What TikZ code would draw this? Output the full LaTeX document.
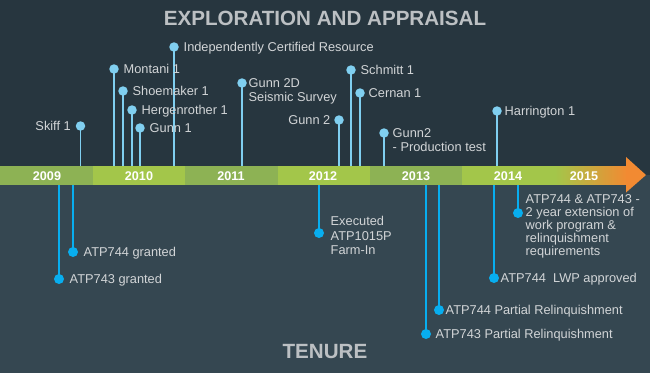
\documentclass[tikz,border=0pt]{standalone}
\usepackage{fontspec}
\setmainfont{Liberation Sans}
\definecolor{topbg}{HTML}{27363F}
\definecolor{botbg}{HTML}{354751}
\definecolor{bardark}{HTML}{8DB254}
\definecolor{barlight}{HTML}{A3C64A}
\definecolor{orangeA}{HTML}{F28A32}
\definecolor{yellowA}{HTML}{D8B448}
\definecolor{topblue}{HTML}{80CFF0}
\definecolor{botblue}{HTML}{08AEEF}
\definecolor{lblgrey}{HTML}{D2D5D7}
\definecolor{titlegrey}{HTML}{BCC0C3}
\begin{document}
\begin{tikzpicture}[x=1pt,y=-1pt,
  topdot/.style={circle,fill=topblue,inner sep=0,minimum size=9.5pt},
  botdot/.style={circle,fill=botblue,inner sep=0,minimum size=10pt},
  topstem/.style={draw=topblue,line width=1.3pt},
  botstem/.style={draw=botblue,line width=1.5pt},
  lbl/.style={text=lblgrey,font=\fontsize{12.8}{14}\selectfont,inner sep=0,text height=9.2pt,text depth=0pt},
  mlbl/.style={text=lblgrey,inner sep=0,align=left,anchor=north west},
  yearlbl/.style={text=white,font=\bfseries\fontsize{12.6}{14}\selectfont,inner sep=0},
  titlelbl/.style={text=titlegrey,font=\bfseries\fontsize{20.6}{24}\selectfont,inner sep=0}]
\useasboundingbox (0,0) rectangle (650,373);
% backgrounds
\fill[topbg] (0,0) rectangle (650,175);
\fill[botbg] (0,175) rectangle (650,373);
% timeline bar
\fill[bardark]  (0,166) rectangle (93,184.5);
\fill[barlight] (93,166) rectangle (185,184.5);
\fill[bardark]  (185,166) rectangle (278,184.5);
\fill[barlight] (278,166) rectangle (370,184.5);
\fill[bardark]  (370,166) rectangle (462,184.5);
\fill[barlight] (462,166) rectangle (555,184.5);
\shade[left color=barlight,middle color=yellowA,right color=orangeA,shading angle=90] (555,166) rectangle (627,184.5);
\fill[orangeA] (626,157) -- (646,175) -- (626,192.5) -- cycle;
\coordinate (bt) at (0,166);
\coordinate (bb) at (0,184.5);
% years
\node[yearlbl] (y2009) at (47,176.5) {2009};
\node[yearlbl] (y2010) at (139,176.5) {2010};
\node[yearlbl] (y2011) at (231,176.5) {2011};
\node[yearlbl] (y2012) at (323,176.5) {2012};
\node[yearlbl] (y2013) at (416,176.5) {2013};
\node[yearlbl] (y2014) at (508,176.5) {2014};
\node[yearlbl] (y2015) at (584,176.5) {2015};
% titles
\node[titlelbl] (ttl) at (325,18.5) {EXPLORATION AND APPRAISAL};
\node[titlelbl] (ten) at (325,352) {TENURE};
% top events
\foreach \n/\x/\y in {skiff/80.5/126, montani/114/69, shoe/123/91, herg/132/110, gunnA/140/128, icr/174/47, gsd/242/83, gunnB/339/120, schmitt/351/70, cernan/360/93, gprod/384/133, harr/497/111}{
  \coordinate (\n-c) at (\x,\y);
  \draw[topstem] (\n-c) -- (\n-c |- bt);
  \node[topdot] (\n) at (\n-c) {};
}
\node[lbl,anchor=east] (skiffL) at (skiff -| 71,0) {Skiff 1};
\node[lbl,anchor=west] (montaniL) at (montani -| 123.5,0) {Montani 1};
\node[lbl,anchor=west] (shoeL) at (shoe -| 132.5,0) {Shoemaker 1};
\node[lbl,anchor=west] (hergL) at (herg -| 141.5,0) {Hergenrother 1};
\node[lbl,anchor=west] (gunnAL) at (gunnA -| 149.5,0) {Gunn 1};
\node[lbl,anchor=west] (icrL) at (icr -| 183.5,0) {Independently Certified Resource};
\node[mlbl,font=\fontsize{12.8}{14}\selectfont] (gsdL) at (248.5,78.3) {Gunn 2D\\Seismic Survey};
\node[lbl,anchor=east] (gunnBL) at (gunnB -| 330.5,0) {Gunn 2};
\node[lbl,anchor=west] (schmittL) at (schmitt -| 360.5,0) {Schmitt 1};
\node[lbl,anchor=west] (cernanL) at (cernan -| 368.5,0) {Cernan 1};
\node[mlbl,font=\fontsize{12.8}{14}\selectfont] (gprodL) at (392.5,128.3) {Gunn2\\- Production test};
\node[lbl,anchor=west] (harrL) at (harr -| 504.5,0) {Harrington 1};
% bottom events
\foreach \n/\x/\y in {a743g/59/279, a744g/73/252, exec/319/233, a743p/426/334, a744p/439/310, lwp/494/278, ext/518/213}{
  \coordinate (\n-c) at (\x,\y);
  \draw[botstem] (\n-c) -- (\n-c |- bb);
  \node[botdot] (\n) at (\n-c) {};
}
\node[lbl,anchor=west] (a743gL) at (a743g -| 69.5,0) {ATP743 granted};
\node[lbl,anchor=west] (a744gL) at (a744g -| 83.5,0) {ATP744 granted};
\node[mlbl,font=\fontsize{12.8}{14.5}\selectfont] (execL) at (330.5,216.1) {Executed\\ATP1015P\\Farm-In};
\node[lbl,anchor=west] (a743pL) at (a743p -| 435.5,0) {ATP743 Partial Relinquishment};
\node[lbl,anchor=west] (a744pL) at (a744p -| 445.5,0) {ATP744 Partial Relinquishment};
\node[lbl,anchor=west] (lwpL) at (lwp -| 500.5,0) {ATP744\ \ LWP approved};
\node[mlbl,font=\fontsize{12.8}{13}\selectfont] (extL) at (525.5,194.3) {ATP744 \& ATP743 -\\2 year extension of\\work program \&\\relinquishment\\requirements};
\end{tikzpicture}
\end{document}
